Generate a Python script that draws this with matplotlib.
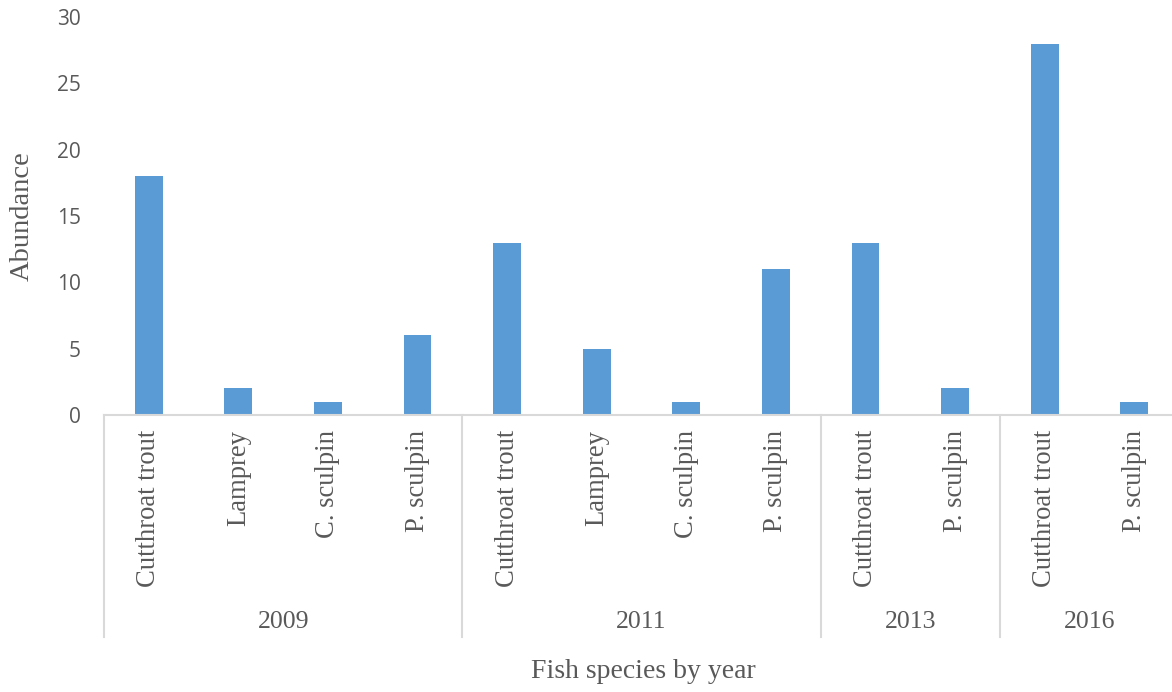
import numpy as np
import matplotlib.pyplot as plt

species = ["Cutthroat trout", "Lamprey", "C. sculpin", "P. sculpin",
           "Cutthroat trout", "Lamprey", "C. sculpin", "P. sculpin",
           "Cutthroat trout", "P. sculpin",
           "Cutthroat trout", "P. sculpin"]
abundance = [18, 2, 1, 6, 13, 5, 1, 11, 13, 2, 28, 1]
years = ["2009", "2011", "2013", "2016"]
group_sizes = [4, 4, 2, 2]

txt = "#595959"
line_c = "#D9D9D9"
serif = ["Liberation Serif", "DejaVu Serif"]

fig = plt.figure(figsize=(11.72, 6.92), dpi=100)
# the axis runs a little past the right edge of the picture
ax = fig.add_axes([104/1172, 1-415/692, 1075/1172, (415-17)/692])

x = np.arange(len(abundance)) + 0.5
ax.bar(x, abundance, width=0.31, color="#5B9BD5", zorder=2)

ax.set_xlim(0, len(abundance))
ax.set_ylim(0, 30)
ax.set_yticks(range(0, 31, 5))
ax.tick_params(axis="y", length=0, pad=16.5, labelsize=15, labelcolor=txt)
for lab in ax.get_yticklabels():
    lab.set_family("Open Sans")
ax.set_xticks([])
for s in ["top", "right", "left"]:
    ax.spines[s].set_visible(False)
ax.spines["bottom"].set_color(line_c)
ax.spines["bottom"].set_linewidth(1.5)

# axes fraction per pixel below the axis
px = 1/398
trans = ax.get_xaxis_transform()

for xi, name in zip(x, species):
    ax.text(xi, -15*px, name, rotation=90, ha="center", va="top",
            fontsize=19.2, family=serif, color=txt, transform=trans)

edges = np.concatenate([[0], np.cumsum(group_sizes)])
for e in edges[:-1]:
    ax.plot([e, e], [0, -222*px], color=line_c, lw=1.5,
            transform=trans, clip_on=False)
for i, yr in enumerate(years):
    mid = (edges[i] + edges[i+1]) / 2
    ax.text(mid, -207*px, yr, ha="center", va="center", fontsize=18.5,
            family=serif, color=txt, transform=trans)

fig.text(643/1172, 1-672/692, "Fish species by year", ha="center", va="center",
         fontsize=20, family=serif, color=txt)
fig.text(22/1172, 1-216/692, "Abundance", ha="center", va="center", rotation=90,
         fontsize=20.5, family=serif, color=txt)

fig.savefig("out.png", dpi=100)
